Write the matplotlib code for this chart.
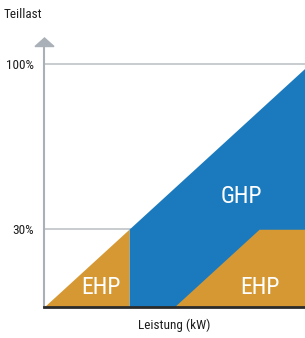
import matplotlib
matplotlib.use("Agg")
import matplotlib.pyplot as plt
from matplotlib.patches import Polygon
from matplotlib import font_manager

# ---- data (schematic: x = capacity units, y = part load %) ----
ehp_small_x = [0, 32]
ehp_small_top = [0, 32]
ghp_x = [32, 98.3]
ghp_top = [32, 98.3]
ehp_large_x = [49, 81, 98.3]
ehp_large_top = [0, 32, 32]
ytick_vals = [32, 100]
ytick_labels = ["30%", "100%"]
labels = {"GHP": (74.5, 45.5), "EHP1": (21.5, 8), "EHP2": (81.3, 8)}

ORANGE = "#d59833"
BLUE = "#1b7abd"
GRAY = "#a9b0b7"
LGRAY = "#bfc3c7"
names = {f.name for f in font_manager.fontManager.ttflist}
FONT = [f for f in ["Roboto Condensed", "Liberation Sans Narrow", "Roboto", "DejaVu Sans"] if f in names]
condensed = FONT[0] in ("Roboto Condensed", "Liberation Sans Narrow")
BIG = 17 if condensed else 15
SMALL = 9.5 if condensed else 8.5

W, H = 305, 338
fig = plt.figure(figsize=(W / 100, H / 100), dpi=100)
x0, y0, x1, y1 = 44, 307, 305, 46
ax = fig.add_axes([x0 / W, (H - y0) / H, (x1 - x0) / W, (y0 - y1) / H])
ax.set_xlim(0, 98.3)
ax.set_ylim(0, 100 * (y0 - y1) / (y0 - 64))

ax.fill_between(ghp_x, 0, ghp_top, color=BLUE, lw=0, zorder=2)
ax.fill_between(ehp_small_x, 0, ehp_small_top, color=ORANGE, lw=0, zorder=3)
ax.fill_between(ehp_large_x, 0, ehp_large_top, color=ORANGE, lw=0, zorder=3)

for v in ytick_vals:
    ax.axhline(v, color=LGRAY, lw=1.2, zorder=1)

ax.set_yticks(ytick_vals)
ax.set_yticklabels(ytick_labels, fontfamily=FONT, fontsize=SMALL, color="#1e1e1e")
ax.tick_params(axis="y", length=0, pad=7)
ax.set_xticks([])
for s in ["top", "right"]:
    ax.spines[s].set_visible(False)
ax.spines["left"].set_color(GRAY)
ax.spines["left"].set_linewidth(1.5)
ax.spines["bottom"].set_color("#2b2b2b")
ax.spines["bottom"].set_linewidth(2)
ax.spines["bottom"].set_zorder(5)

for key, txt in [("GHP", "GHP"), ("EHP1", "EHP"), ("EHP2", "EHP")]:
    ax.text(*labels[key], txt, color="white", fontfamily=FONT, fontsize=BIG,
            ha="center", va="center", zorder=6)

# arrow head on y axis
tri = Polygon([[35 / W, 1 - 46.5 / H], [54 / W, 1 - 46.5 / H], [44.5 / W, 1 - 38 / H]],
              closed=True, color=GRAY, transform=fig.transFigure, zorder=6)
fig.patches.append(tri)

fig.text(4 / W, 1 - 14 / H, "Teillast", fontfamily=FONT, fontsize=SMALL,
         color="#1e1e1e", ha="left", va="center")
fig.text(174 / W, 1 - 325 / H, "Leistung (kW)", fontfamily=FONT, fontsize=SMALL,
         color="#1e1e1e", ha="center", va="center")

fig.savefig("out.png", dpi=100)
